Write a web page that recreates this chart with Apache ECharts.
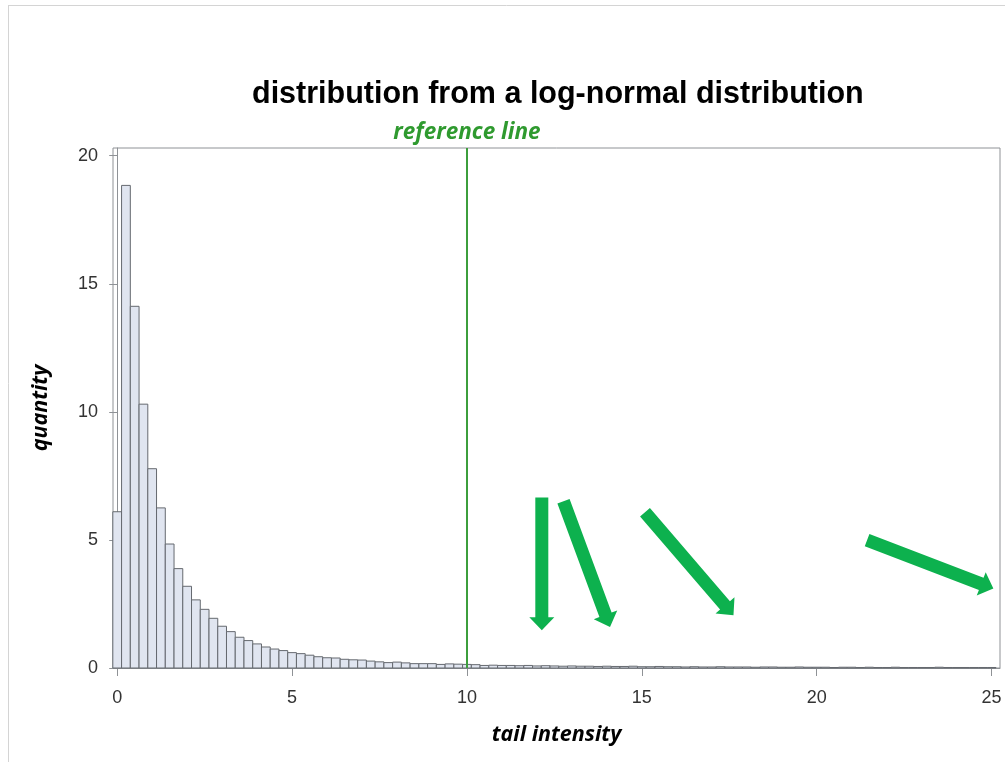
<!DOCTYPE html>
<html>
<head>
<meta charset="utf-8">
<script src="https://cdn.jsdelivr.net/npm/echarts@6/dist/echarts.min.js"></script>
<style>html,body{margin:0;padding:0;background:#fff;}#c{width:1005px;height:762px;}</style>
</head>
<body>
<div id="c"></div>
<script>
// ---- data ----
const titleText = 'distribution from a log-normal distribution';
const xAxisName = 'tail intensity';
const yAxisName = 'quantity';
const refLineValue = 10;
const refLineLabel = 'reference line';
const xTicks = [0, 5, 10, 15, 20, 25];
const yTicks = [0, 5, 10, 15, 20];
const binWidth = 0.25;
const binCenters = [
  0, 0.25, 0.5, 0.75, 1, 1.25, 1.5, 1.75, 2, 2.25, 2.5, 2.75, 3, 3.25, 3.5, 3.75,
  4, 4.25, 4.5, 4.75, 5, 5.25, 5.5, 5.75, 6, 6.25, 6.5, 6.75, 7, 7.25, 7.5, 7.75,
  8, 8.25, 8.5, 8.75, 9, 9.25, 9.5, 9.75, 10, 10.25, 10.5, 10.75, 11, 11.25, 11.5, 11.75,
  12, 12.25, 12.5, 12.75, 13, 13.25, 13.5, 13.75, 14, 14.25, 14.5, 14.75, 15, 15.25, 15.5, 15.75,
  16, 16.25, 16.5, 16.75, 17, 17.25, 17.5, 17.75, 18, 18.25, 18.5, 18.75, 19, 19.25, 19.5, 19.75,
  20, 20.25, 20.5, 20.75, 21, 21.25, 21.5, 21.75, 22, 22.25, 22.5, 22.75, 23, 23.25, 23.5, 23.75,
  24, 24.25, 24.5, 24.75, 25
];
const quantities = [
  6.1, 18.84, 14.12, 10.3, 7.78, 6.25, 4.84, 3.88, 3.19, 2.66, 2.29, 1.94, 1.63, 1.42, 1.2, 1.07,
  0.94, 0.82, 0.74, 0.68, 0.6, 0.56, 0.5, 0.44, 0.4, 0.39, 0.34, 0.32, 0.31, 0.27, 0.24, 0.21,
  0.23, 0.2, 0.17, 0.17, 0.17, 0.14, 0.16, 0.15, 0.14, 0.13, 0.1, 0.11, 0.1, 0.1, 0.09, 0.1,
  0.08, 0.09, 0.08, 0.07, 0.08, 0.07, 0.07, 0.06, 0.07, 0.06, 0.06, 0.07, 0.05, 0.05, 0.06, 0.05,
  0.05, 0.04, 0.05, 0.04, 0.04, 0.05, 0.04, 0.04, 0.04, 0.03, 0.04, 0.04, 0.03, 0.03, 0.04, 0.03,
  0.03, 0.03, 0.02, 0.03, 0.03, 0.02, 0.03, 0.02, 0.02, 0.03, 0.02, 0.02, 0.02, 0.02, 0.03, 0.02,
  0.02, 0.02, 0.02, 0.02, 0.02
];
// annotation arrows (data coordinates): tail x, tail y, tip x, tip y
const arrowTailX = [12.14, 12.76, 15.09, 21.44];
const arrowTailY = [6.66, 6.51, 6.08, 4.99];
const arrowTipX  = [12.14, 14.09, 17.62, 25.05];
const arrowTipY  = [1.47, 1.60, 2.06, 3.10];

// ---- chart ----
const histData = binCenters.map((c, i) => [c, quantities[i]]);
const arrowData = arrowTailX.map((x, i) => [x, arrowTailY[i], arrowTipX[i], arrowTipY[i]]);

const chart = echarts.init(document.getElementById('c'), null, {renderer: 'canvas'});
const labelFont = '"Liberation Sans", Arial, sans-serif';
const nameFont = '"Open Sans", "Noto Sans", sans-serif';
const axisGray = '#8f9296';

chart.setOption({
  animation: false,
  backgroundColor: '#fff',
  title: {
    text: titleText,
    left: 247,
    top: 74,
    textStyle: {fontFamily: labelFont, fontWeight: 'bold', fontSize: 30.5, color: '#000'}
  },
  graphic: [
    {type: 'line', shape: {x1: 8, y1: 5.5, x2: 1005, y2: 5.5}, style: {stroke: '#d4d4d4', lineWidth: 1}, silent: true},
    {type: 'line', shape: {x1: 8.5, y1: 5, x2: 8.5, y2: 762}, style: {stroke: '#d4d4d4', lineWidth: 1}, silent: true}
  ],
  grid: {
    left: 113, right: 5, top: 148, bottom: 94,
    show: true, borderColor: axisGray, borderWidth: 1,
    containLabel: false, outerBoundsMode: 'none'
  },
  xAxis: {
    type: 'value',
    min: -0.12, max: 25.24,
    splitLine: {show: false},
    axisLine: {show: true, lineStyle: {color: axisGray}},
    axisTick: {show: true, length: 8, lineStyle: {color: axisGray}, customValues: xTicks},
    axisLabel: {customValues: xTicks, margin: 21, fontFamily: labelFont, fontSize: 18, color: '#333'},
    name: xAxisName,
    nameLocation: 'middle',
    nameGap: 56,
    nameTextStyle: {fontFamily: nameFont, fontStyle: 'italic', fontWeight: 'bold', fontSize: 21.5, color: '#000'}
  },
  yAxis: {
    type: 'value',
    min: 0, max: 20.3,
    splitLine: {show: false},
    axisLine: {show: true, lineStyle: {color: axisGray}},
    axisTick: {show: true, length: 8, lineStyle: {color: axisGray}, customValues: yTicks},
    axisLabel: {customValues: yTicks, margin: 15, fontFamily: labelFont, fontSize: 18, color: '#333'},
    name: yAxisName,
    nameLocation: 'middle',
    nameRotate: 90,
    nameGap: 61,
    nameTextStyle: {fontFamily: nameFont, fontStyle: 'italic', fontWeight: 'bold', fontSize: 21.5, color: '#000'}
  },
  series: [
    {
      type: 'custom',
      name: 'histogram',
      data: histData,
      encode: {x: 0, y: 1},
      renderItem: function (params, api) {
        const c = api.value(0), v = api.value(1);
        const p0 = api.coord([c - binWidth / 2, v]);
        const p1 = api.coord([c + binWidth / 2, 0]);
        return {
          type: 'rect',
          shape: {x: p0[0], y: p0[1], width: p1[0] - p0[0], height: p1[1] - p0[1]},
          style: {fill: '#e0e5f0', stroke: '#65696f', lineWidth: 1}
        };
      },
      z: 2
    },
    {
      type: 'line',
      name: 'ref',
      data: [],
      markLine: {
        silent: true,
        symbol: 'none',
        lineStyle: {color: '#3c9e3c', width: 2, type: 'solid'},
        label: {
          show: true, position: 'end', distance: 4,
          formatter: refLineLabel,
          fontFamily: nameFont, fontStyle: 'italic', fontWeight: 'bold', fontSize: 22.5, color: '#2f9a2f'
        },
        data: [{xAxis: refLineValue}]
      },
      z: 3
    },
    {
      type: 'custom',
      name: 'arrows',
      data: arrowData,
      encode: {x: [0, 2], y: [1, 3]},
      renderItem: function (params, api) {
        const t = api.coord([api.value(0), api.value(1)]);
        const h = api.coord([api.value(2), api.value(3)]);
        const shaftW = 13, headW = 25, headL = 13;
        const dx = h[0] - t[0], dy = h[1] - t[1];
        const len = Math.hypot(dx, dy);
        const ux = dx / len, uy = dy / len, nx = -uy, ny = ux;
        const bx = h[0] - ux * headL, by = h[1] - uy * headL;
        const pts = [
          [t[0] + nx * shaftW / 2, t[1] + ny * shaftW / 2],
          [bx + nx * shaftW / 2, by + ny * shaftW / 2],
          [bx + nx * headW / 2, by + ny * headW / 2],
          [h[0], h[1]],
          [bx - nx * headW / 2, by - ny * headW / 2],
          [bx - nx * shaftW / 2, by - ny * shaftW / 2],
          [t[0] - nx * shaftW / 2, t[1] - ny * shaftW / 2]
        ];
        return {type: 'polygon', shape: {points: pts}, style: {fill: '#0db14e'}};
      },
      z: 4
    }
  ]
});
</script>
</body>
</html>
